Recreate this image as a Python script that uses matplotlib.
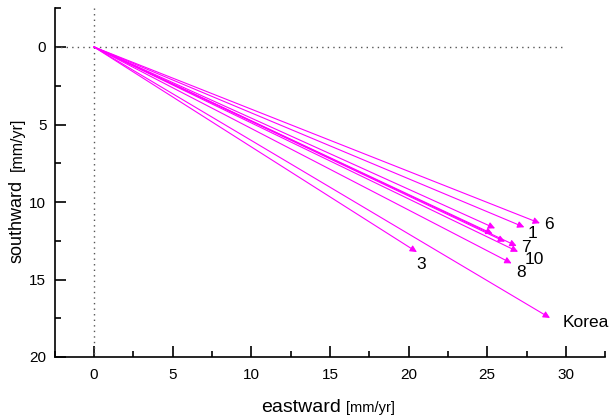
import matplotlib
matplotlib.use("Agg")
import matplotlib.pyplot as plt
from matplotlib.ticker import MultipleLocator

plt.rcParams['font.family'] = ['Liberation Sans', 'DejaVu Sans']

# data: station labels, eastward and southward velocity (mm/yr)
names = ["6", "1", "", "", "", "7", "10", "8", "3", "Korea"]
east = [28.35, 27.36, 25.50, 25.35, 26.13, 26.87, 26.96, 26.55, 20.53, 28.99]
south = [11.37, 11.63, 11.70, 12.06, 12.56, 12.84, 13.21, 13.96, 13.23, 17.48]

# label offsets in pixels (layout only)
label_off = {"6": (9, -1, 'center'), "1": (8, -6, 'center'), "7": (9, -1, 'center'),
             "10": (16, -8, 'center'), "8": (9, -9, 'center'), "3": (4, -12, 'center'),
             "Korea": (13, -5, 'left')}

fig = plt.figure(figsize=(6.09, 4.18), dpi=100)
L, R, T, B = 54.7, 605.2, 8.25, 357
ax = fig.add_axes([L/609, 1-B/418, (R-L)/609, (B-T)/418])

ax.set_xlim(-2.5, 32.5)
ax.set_ylim(20, -2.5)

ax.plot([-2.5, 30], [0, 0], linestyle=(0, (1, 3)), color='#555555', lw=1.0)
ax.plot([0, 0], [-2.5, 20], linestyle=(0, (1, 3)), color='#555555', lw=1.0)

for n, e, s in zip(names, east, south):
    ax.annotate('', xy=(e, s), xytext=(0, 0),
                arrowprops=dict(arrowstyle='-|>', color='#ff00ff', lw=0.8,
                                mutation_scale=10, shrinkA=0, shrinkB=0))
    if n:
        dx, dy, ha = label_off[n]
        ax.annotate(n, xy=(e, s), xytext=(dx, dy), textcoords='offset pixels',
                    ha=ha, va='center', fontsize=12.5, annotation_clip=False)

for sp in ['top', 'right']:
    ax.spines[sp].set_visible(False)
for sp in ['left', 'bottom']:
    ax.spines[sp].set_linewidth(1.2)

ax.xaxis.set_major_locator(MultipleLocator(5))
ax.xaxis.set_minor_locator(MultipleLocator(2.5))
ax.set_yticks([0, 5, 10, 15, 20])
ax.yaxis.set_minor_locator(MultipleLocator(2.5))
ax.tick_params(which='major', direction='in', length=8, width=1.2, labelsize=11)
ax.tick_params(axis='x', which='major', pad=8)
ax.tick_params(axis='y', which='major', pad=6)
ax.tick_params(which='minor', direction='in', length=4, width=1.2)

fig.text(341/609, 1-412/418, "eastward", ha='right', va='baseline', fontsize=14)
fig.text(346/609, 1-412/418, "[mm/yr]", ha='left', va='baseline', fontsize=10.5)
fig.text(22/609, 1-263/418, "southward", rotation=90, rotation_mode='anchor',
         ha='left', va='baseline', fontsize=13)
fig.text(22/609, 1-171/418, "[mm/yr]", rotation=90, rotation_mode='anchor',
         ha='left', va='baseline', fontsize=11.5)

fig.savefig("out.png", dpi=100)
